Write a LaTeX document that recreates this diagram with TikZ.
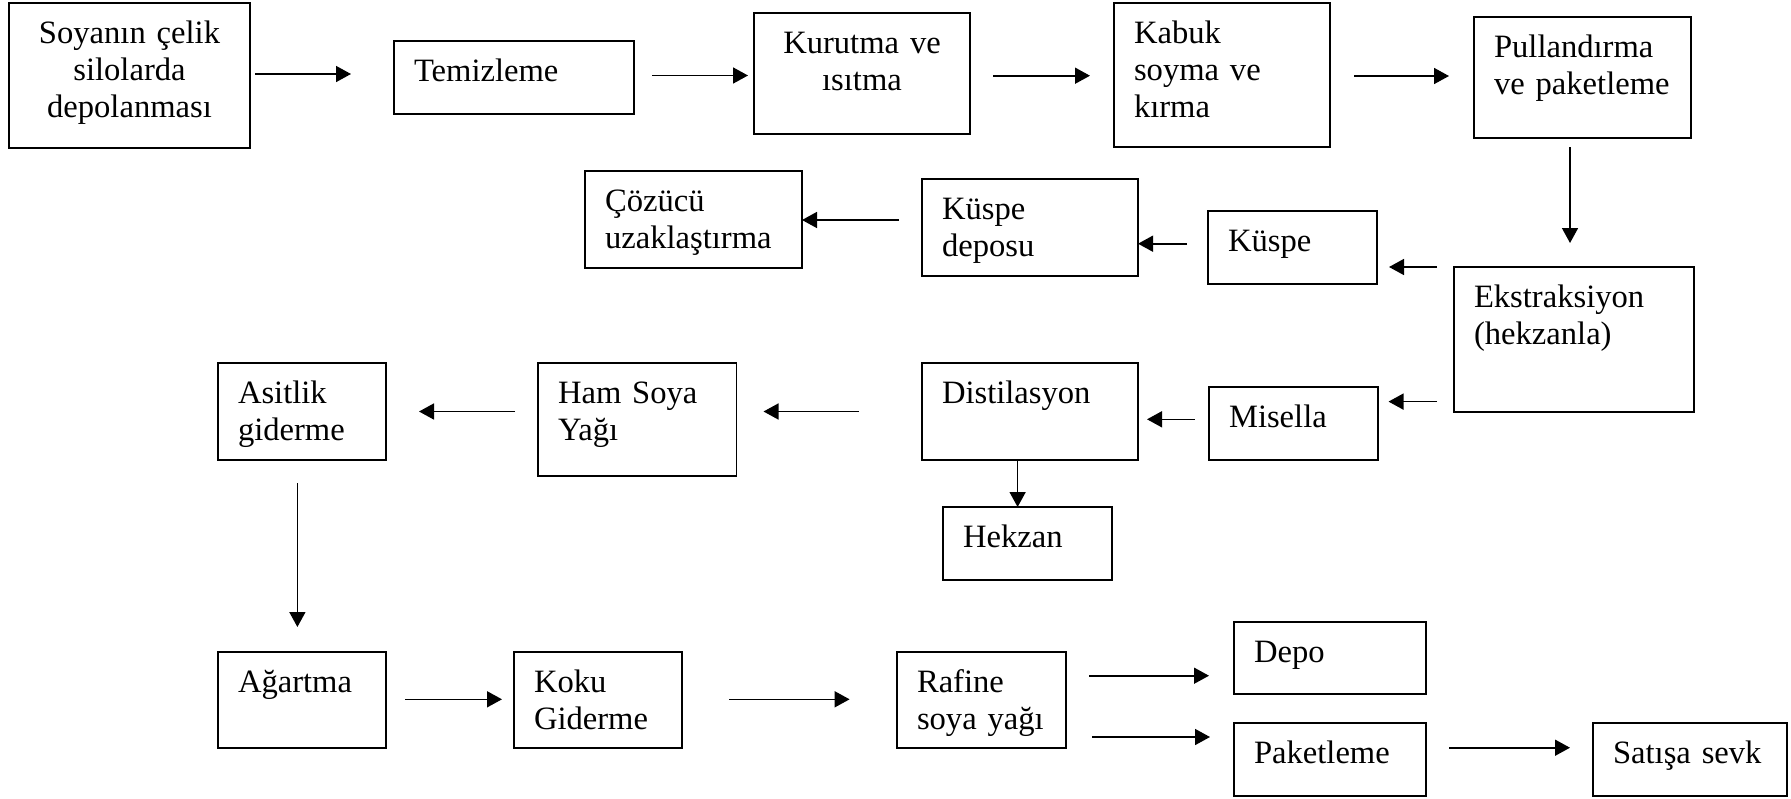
\documentclass[tikz,border=0pt]{standalone}
\usepackage{fontspec}
\setmainfont{Liberation Serif}
\usepackage{tikz}
\usetikzlibrary{arrows.meta,calc}

\begin{document}
\begin{tikzpicture}[x=0.5pt,y=-0.5pt,
  kutu/.style={draw,line width=0.8pt,anchor=north west,outer sep=0pt,inner xsep=10pt,inner ysep=0pt,
    align=left,text height=20.4pt,font=\fontsize{16.3}{18.3}\selectfont},
  ok/.style={line width=0.8pt,-{Triangle[length=7.5pt,width=8pt]}}]
\useasboundingbox (0,0) rectangle (1791,798);
% first row
\node[kutu,align=center,text width=100.5pt,text depth=52.1pt] (silo) at (9,3) {Soyanın çelik\\silolarda\\depolanması};
\node[kutu,text width=100pt,text depth=16.1pt] (temiz) at (394,41) {Temizleme};
\node[kutu,align=center,text width=88pt,text depth=40.1pt] (kurut) at (754,13) {Kurutma ve\\ısıtma};
\node[kutu,text width=88pt,text depth=51.6pt] (kabuk) at (1114,3) {Kabuk\\soyma ve\\kırma};
\node[kutu,text width=88.5pt,text depth=40.1pt] (pull) at (1474,17) {Pullandırma\\ve paketleme};
% second row
\node[kutu,text width=88.5pt,text depth=28.1pt] (cozucu) at (585,171) {Çözücü\\uzaklaştırma};
\node[kutu,text width=88pt,text depth=28.1pt] (kdepo) at (922,179) {Küspe\\deposu};
\node[kutu,text width=64.5pt,text depth=16.1pt] (kuspe) at (1208,211) {Küspe};
\node[kutu,text width=100pt,text depth=52.1pt] (ekstr) at (1454,267) {Ekstraksiyon\\(hekzanla)};
% third row
\node[kutu,text width=64pt,text depth=28.1pt] (asit) at (218,363) {Asitlik\\giderme};
\node[kutu,text width=79.25pt,text depth=36.1pt] (ham) at (538,363) {Ham Soya\\Yağı};
\node[kutu,text width=88pt,text depth=28.1pt] (distil) at (922,363) {Distilasyon};
\node[kutu,text width=64.5pt,text depth=16.1pt] (misel) at (1209,387) {Misella};
\node[kutu,text width=64.5pt,text depth=16.1pt] (hekz) at (943,507) {Hekzan};
% last row
\node[kutu,text width=64pt,text depth=27.6pt] (agart) at (218,652) {Ağartma};
\node[kutu,text width=64pt,text depth=27.6pt] (koku) at (514,652) {Koku\\Giderme};
\node[kutu,text width=64.5pt,text depth=27.6pt] (rafine) at (897,652) {Rafine\\soya yağı};
\node[kutu,text width=76pt,text depth=15.6pt] (depo) at (1234,622) {Depo};
\node[kutu,text width=76pt,text depth=16.1pt] (paket) at (1234,723) {Paketleme};
\node[kutu,text width=77pt,text depth=16.1pt] (satis) at (1593,723) {Satışa sevk};
% arrows
\draw[ok] ($(silo.east)+(5,-1.5)$) -- ($(silo.east -| temiz.west)+(-43,-1.5)$);
\draw[ok] ($(temiz.east)+(18,-2)$) -- ($(temiz.east -| kurut.west)+(-6,-2)$);
\draw[ok] ($(kurut.east)+(23,2.2)$) -- ($(kurut.east -| kabuk.west)+(-24,2.2)$);
\draw[ok] ($(kabuk.east)+(24,1)$) -- ($(kabuk.east -| pull.west)+(-25,1)$);
\draw[ok] ($(pull.south)+(-12.5,9)$) -- ($(pull.south |- ekstr.north)+(-12.5,-24)$);
\draw[ok] ($(ekstr.north west)+(-17,0)$) -- ($(ekstr.north west -| kuspe.east)+(12,0)$);
\draw[ok] ($(kuspe.west)+(-21,-3.8)$) -- ($(kuspe.west -| kdepo.east)+(0,-3.8)$);
\draw[ok] ($(kdepo.west)+(-23,-7.5)$) -- ($(kdepo.west -| cozucu.east)+(0,-7.5)$);
\draw[ok] ($(ekstr.south west)+(-17,-10.4)$) -- ($(ekstr.south west -| misel.east)+(10.5,-10.4)$);
\draw[ok] ($(misel.west)+(-14.5,-4.2)$) -- ($(misel.west -| distil.east)+(9,-4.2)$);
\draw[ok] ($(distil.west)+(-63,0)$) -- ($(distil.west -| ham.east)+(27,0)$);
\draw[ok] ($(ham.west)+(-23,-8)$) -- ($(ham.west -| asit.east)+(33,-8)$);
\draw[ok] ($(distil.south)+(-12.4,0)$) -- ($(distil.south |- hekz.north)+(-12.4,0)$);
\draw[ok] ($(asit.south)+(-4.6,23)$) -- ($(asit.south |- agart.north)+(-4.6,-25)$);
\draw[ok] ($(agart.east)+(19,-0.7)$) -- ($(agart.east -| koku.west)+(-12,-0.7)$);
\draw[ok] ($(koku.east)+(47,-0.7)$) -- ($(koku.east -| rafine.west)+(-47.4,-0.7)$);
\draw[ok] ($(rafine.east)+(23,-24.3)$) -- ($(rafine.east -| depo.west)+(-25,-24.3)$);
\draw[ok] ($(rafine.east)+(26,37)$) -- ($(rafine.east -| paket.west)+(-24,37)$);
\draw[ok] ($(paket.east)+(23,-11.8)$) -- ($(paket.east -| satis.west)+(-23,-11.8)$);
\end{tikzpicture}
\end{document}
